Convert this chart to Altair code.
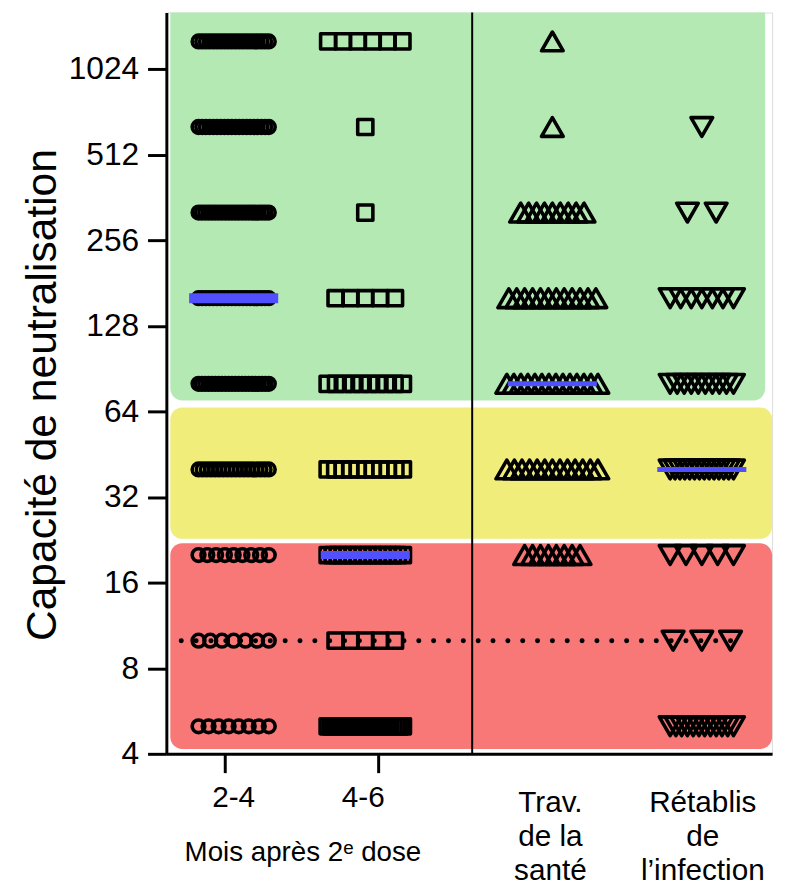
import altair as alt
import pandas as pd
import numpy as np

# ---------------- data ----------------
titers = [1280, 640, 320, 160, 80, 40, 20, 10, 5]
groups = ["2-4", "4-6", "Trav", "Rétablis"]
counts_2_4 = [20, 20, 22, 20, 22, 18, 9, 7, 8]
counts_4_6 = [6, 1, 1, 5, 10, 11, 16, 5, 25]
counts_trav = [1, 1, 9, 12, 14, 13, 8, 0, 0]
counts_retab = [0, 1, 2, 7, 10, 14, 5, 3, 12]
y_ticks = [4, 8, 16, 32, 64, 128, 256, 512, 1024]

zone_names = ["vert", "jaune", "rouge"]
zone_low = [69.9, 22.8, 4.16]
zone_high = [1617, 66.1, 22.0]
zone_colors = ["#B5E9B4", "#F1ED7B", "#F87878"]

threshold = 10

# ---------------- layout ----------------
W, H = 612, 749
centers = {"2-4": 68, "4-6": 201, "Trav": 390, "Rétablis": 541}
spread = {"2-4": (12, 71), "4-6": (15, 76), "Trav": (8, 92), "Rétablis": (29, 64)}
shapes = {"2-4": "circle", "4-6": "square", "Trav": "triangle-up", "Rétablis": "triangle-down"}
sizes = {"2-4": 165, "4-6": 235, "Trav": 480, "Rétablis": 480}
median_w = {"2-4": 10, "4-6": 8, "Trav": 5, "Rétablis": 5}
zone_x0 = [4, 4, 4]
zone_x1 = [605, 612, 612]
FONT = "Liberation Sans, Arial, sans-serif"

counts = {"2-4": counts_2_4, "4-6": counts_4_6, "Trav": counts_trav, "Rétablis": counts_retab}
rows = []
for g in groups:
    step, wmax = spread[g]
    for t, n in zip(titers, counts[g]):
        if n == 0:
            continue
        w = min(step * (n - 1), wmax)
        offs = np.linspace(-w / 2, w / 2, n) if n > 1 else [0.0]
        for o in offs:
            rows.append({"group": g, "titer": t, "x": centers[g] + o,
                         "center": centers[g], "lw": median_w[g],
                         "sz": sizes[g]})
pts = pd.DataFrame(rows)

zones = pd.DataFrame({"name": zone_names, "lo": zone_low, "hi": zone_high,
                      "color": zone_colors, "x0": zone_x0, "x1": zone_x1})

xscale = alt.Scale(domain=[0, W], nice=False, zero=False)
yscale = alt.Scale(type="log", base=2, domain=[4, 1617], nice=False)

xaxis = alt.Axis(values=[59, 214], labels=False, tickSize=19, tickWidth=3,
                 domainWidth=3, domainColor="black", tickColor="black",
                 grid=False, title=None)
yaxis = alt.Axis(values=y_ticks, labelFontSize=32, labelFont=FONT, labelColor="black",
                 tickSize=19, tickWidth=3, domainWidth=3, domainColor="black",
                 tickColor="black", labelPadding=9, grid=False,
                 title="Capacité de neutralisation", titleFontSize=43,
                 titleFont=FONT, titleFontWeight="normal", titleColor="black",
                 titleX=-103, titleY=386, titleAlign="center", titleAngle=-90,
                 titleBaseline="bottom", format="d")

base_z = alt.Chart(zones)
green = base_z.transform_filter("datum.name == 'vert'").mark_rect(
    cornerRadiusBottomLeft=12, cornerRadiusBottomRight=12
).encode(
    x=alt.X("x0:Q", scale=xscale, axis=xaxis),
    x2="x1:Q",
    y=alt.Y("lo:Q", scale=yscale, axis=yaxis),
    y2="hi:Q",
    color=alt.Color("color:N", scale=None),
)
others = base_z.transform_filter("datum.name != 'vert'").mark_rect(cornerRadius=12).encode(
    x=alt.X("x0:Q", scale=xscale, axis=xaxis),
    x2="x1:Q",
    y=alt.Y("lo:Q", scale=yscale, axis=yaxis),
    y2="hi:Q",
    color=alt.Color("color:N", scale=None),
)

divider = alt.Chart(pd.DataFrame({"a": [0]})).mark_rule(color="black", strokeWidth=2).encode(
    x=alt.value(309), y=alt.value(0), y2=alt.value(H)
)

dotted = alt.Chart(pd.DataFrame({"a": [0]})).mark_rule(
    color="black", strokeWidth=5, strokeDash=[0.1, 14.9], strokeCap="round"
).encode(
    x=alt.value(15), x2=alt.value(577),
    y=alt.Y(datum=threshold, scale=yscale, axis=yaxis),
)

points = alt.Chart(pts).mark_point(filled=False, strokeWidth=3.6, strokeJoin="round",
                                   color="black", opacity=1).encode(
    x=alt.X("x:Q", scale=xscale, axis=xaxis),
    y=alt.Y("titer:Q", scale=yscale, axis=yaxis),
    shape=alt.Shape("group:N", scale=alt.Scale(domain=groups, range=[shapes[g] for g in groups]), legend=None),
    size=alt.Size("sz:Q", scale=None),
)

medians = alt.Chart(pts).transform_aggregate(
    med="median(titer)", groupby=["group", "center", "lw"]
).transform_calculate(
    xa="datum.center - 45", xb="datum.center + 45"
).mark_rule(color="#5050FF", strokeCap="butt").encode(
    x=alt.X("xa:Q", scale=xscale, axis=xaxis),
    x2="xb:Q",
    y=alt.Y("med:Q", scale=yscale, axis=yaxis),
    strokeWidth=alt.StrokeWidth("lw:Q", scale=None),
)

def label(txt, x, y, size):
    return alt.Chart(pd.DataFrame({"t": [txt]})).mark_text(
        font=FONT, fontSize=size, color="black", align="center",
        baseline="alphabetic", lineBreak="\n", lineHeight=34
    ).encode(text="t:N", x=alt.value(x), y=alt.value(y))

labels = [
    label("2-4", 68, 803, 30),
    label("4-6", 199, 803, 30),
    label("Mois après 2ᵉ dose", 138, 857, 28),
    label("Trav.\nde la\nsanté", 388, 808, 30),
    label("Rétablis\nde\nl’infection", 542, 808, 30),
]

chart = alt.layer(green, others, divider, dotted, points, medians, *labels).properties(
    width=W, height=H,
    autosize=alt.AutoSizeParams(type="none"),
    padding={"left": 160, "top": 0, "right": 7, "bottom": 131},
).configure_view(stroke=None).configure(background="white")

chart.save("out.html", embed_options={"renderer": "svg", "actions": False})
